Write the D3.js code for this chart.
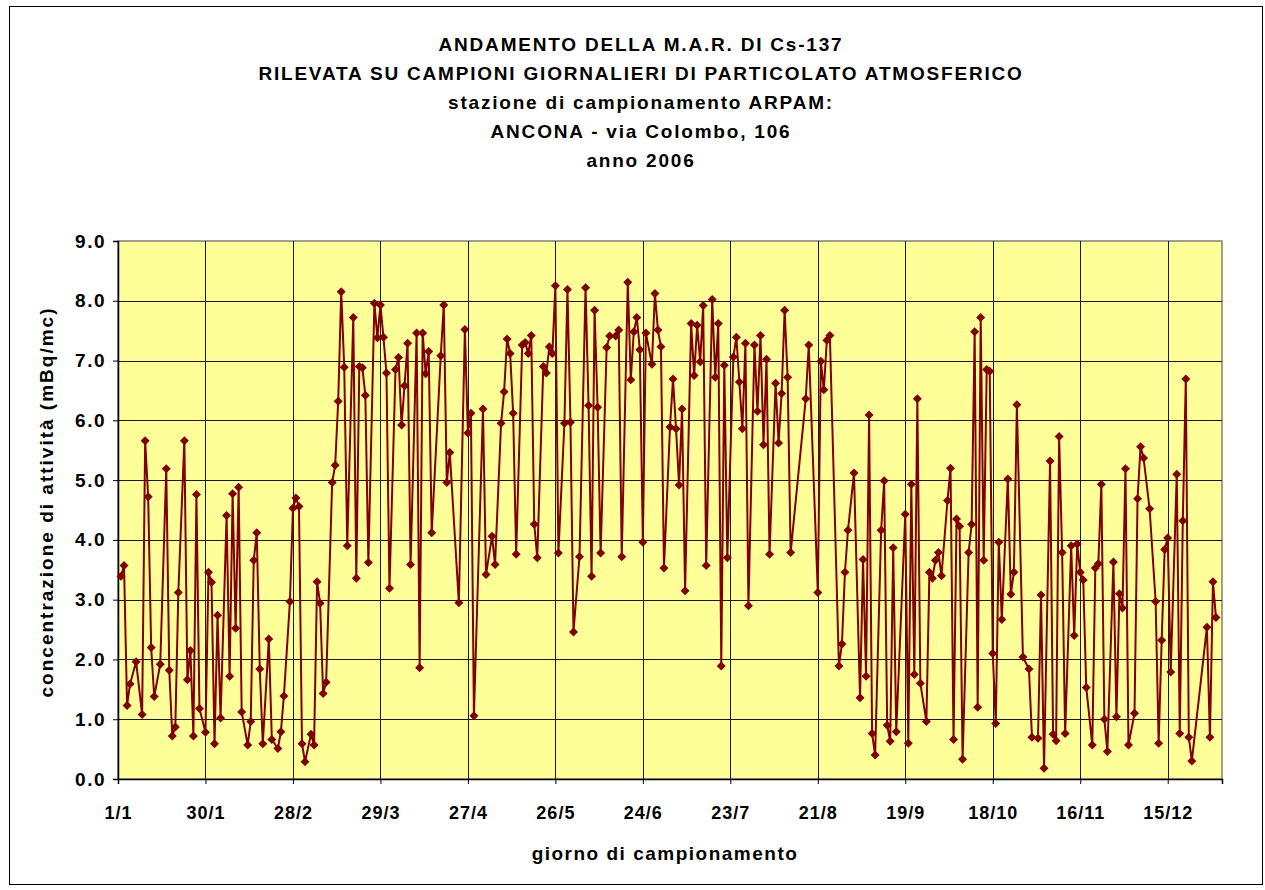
<!DOCTYPE html>
<html>
<head>
<meta charset="utf-8">
<script src="https://cdn.jsdelivr.net/npm/d3@7"></script>
<style>
  html, body { margin: 0; padding: 0; background: #fff; }
  svg text { font-family: "Liberation Sans", Arial, sans-serif; font-weight: bold; fill: #000; }
</style>
</head>
<body>
<svg id="chart" width="1265" height="890"></svg>
<script>
// giorno dell'anno (0 = 1/1/2006) e valore M.A.R. Cs-137 (mBq/mc)
const days = [
  1, 2, 3, 4, 6, 8, 9, 10, 11, 12, 14, 16, 17, 18, 19, 20, 22, 23, 24, 25,
  26, 27, 29, 30, 31, 32, 33, 34, 36, 37, 38, 39, 40, 41, 43, 44, 45, 46, 47, 48,
  50, 51, 53, 54, 55, 57, 58, 59, 60, 61, 62, 64, 65, 66, 67, 68, 69, 71, 72, 73,
  74, 75, 76, 78, 79, 80, 81, 82, 83, 85, 86, 87, 88, 89, 90, 92, 93, 94, 95, 96,
  97, 99, 100, 101, 102, 103, 104, 107, 108, 109, 110, 113, 115, 116, 117, 118, 121, 122, 124, 125,
  127, 128, 129, 130, 131, 132, 134, 135, 136, 137, 138, 139, 141, 142, 143, 144, 145, 146, 148, 149,
  150, 151, 153, 155, 156, 157, 158, 159, 160, 162, 163, 165, 166, 167, 169, 170, 171, 172, 173, 174,
  175, 177, 178, 179, 180, 181, 183, 184, 185, 186, 187, 188, 190, 191, 192, 193, 194, 195, 197, 198,
  199, 200, 201, 202, 204, 205, 206, 207, 208, 209, 211, 212, 213, 214, 215, 216, 218, 219, 220, 221,
  222, 223, 228, 229, 232, 233, 234, 235, 236, 239, 240, 241, 242, 244, 246, 247, 248, 249, 250, 251,
  253, 254, 255, 256, 257, 258, 261, 262, 263, 264, 265, 266, 268, 269, 270, 271, 272, 273, 275, 276,
  277, 278, 279, 280, 282, 283, 284, 285, 286, 287, 288, 289, 290, 291, 292, 293, 295, 296, 297, 298,
  300, 302, 303, 305, 306, 307, 309, 310, 311, 312, 313, 314, 316, 317, 318, 319, 320, 321, 323, 324,
  325, 326, 327, 328, 330, 331, 332, 333, 334, 335, 337, 338, 339, 340, 342, 344, 345, 346, 347, 348,
  349, 351, 352, 353, 354, 355, 356, 361, 362, 363, 364
];
const values = [
  3.39, 3.57, 1.23, 1.59, 1.96, 1.08, 5.66, 4.72, 2.20, 1.38, 1.92, 5.19, 1.82, 0.72, 0.87, 3.12, 5.66, 1.66, 2.15, 0.72,
  4.76, 1.18, 0.78, 3.46, 3.29, 0.59, 2.74, 1.02, 4.41, 1.72, 4.77, 2.52, 4.88, 1.12, 0.57, 0.96, 3.66, 4.12, 1.84, 0.59,
  2.34, 0.66, 0.51, 0.79, 1.39, 2.97, 4.53, 4.70, 4.56, 0.59, 0.29, 0.75, 0.57, 3.30, 2.94, 1.43, 1.62, 4.96, 5.25, 6.32,
  8.15, 6.89, 3.90, 7.72, 3.36, 6.90, 6.88, 6.42, 3.62, 7.96, 7.38, 7.93, 7.39, 6.79, 3.19, 6.85, 7.05, 5.92, 6.58, 7.29,
  3.59, 7.46, 1.86, 7.46, 6.78, 7.15, 4.12, 7.08, 7.93, 4.96, 5.46, 2.95, 7.52, 5.79, 6.12, 1.06, 6.19, 3.42, 4.06, 3.59,
  5.95, 6.48, 7.36, 7.12, 6.12, 3.76, 7.26, 7.30, 7.12, 7.42, 4.26, 3.70, 6.90, 6.79, 7.23, 7.12, 8.25, 3.78, 5.95, 8.19,
  5.97, 2.46, 3.72, 8.22, 6.25, 3.39, 7.84, 6.22, 3.78, 7.22, 7.41, 7.41, 7.51, 3.72, 8.31, 6.68, 7.48, 7.72, 7.18, 3.96,
  7.46, 6.94, 8.12, 7.51, 7.23, 3.53, 5.89, 6.69, 5.86, 4.92, 6.19, 3.15, 7.62, 6.75, 7.59, 6.98, 7.92, 3.57, 8.02, 6.72,
  7.62, 1.89, 6.92, 3.70, 7.06, 7.39, 6.64, 5.86, 7.29, 2.90, 7.26, 6.15, 7.42, 5.59, 7.02, 3.76, 6.62, 5.62, 6.45, 7.84,
  6.72, 3.79, 6.36, 7.26, 3.12, 6.99, 6.51, 7.34, 7.42, 1.89, 2.26, 3.46, 4.16, 5.12, 1.36, 3.67, 1.72, 6.09, 0.76, 0.40,
  4.16, 4.99, 0.90, 0.63, 3.87, 0.79, 4.43, 0.60, 4.93, 1.75, 6.36, 1.60, 0.96, 3.46, 3.36, 3.66, 3.79, 3.40, 4.66, 5.20,
  0.66, 4.35, 4.23, 0.33, 3.79, 4.26, 7.48, 1.20, 7.72, 3.66, 6.85, 6.82, 2.10, 0.93, 3.96, 2.67, 5.02, 3.09, 3.46, 6.26,
  2.04, 1.84, 0.70, 0.68, 3.08, 0.18, 5.32, 0.75, 0.64, 5.73, 3.79, 0.76, 3.90, 2.40, 3.93, 3.46, 3.33, 1.53, 0.57, 3.53,
  3.60, 4.93, 1.00, 0.46, 3.63, 1.04, 3.10, 2.86, 5.19, 0.57, 1.10, 4.69, 5.56, 5.37, 4.52, 2.97, 0.60, 2.32, 3.84, 4.03,
  1.79, 5.10, 0.76, 4.32, 6.69, 0.70, 0.30, 2.54, 0.70, 3.30, 2.70
];
const xTickLabels = ['1/1', '30/1', '28/2', '29/3', '27/4', '26/5', '24/6', '23/7', '21/8', '19/9', '18/10', '16/11', '15/12'];
const yTickValues = [0, 1, 2, 3, 4, 5, 6, 7, 8, 9];
const titleLines = [
  'ANDAMENTO DELLA M.A.R. DI Cs-137',
  'RILEVATA SU CAMPIONI GIORNALIERI DI PARTICOLATO ATMOSFERICO',
  'stazione di campionamento ARPAM:',
  'ANCONA - via Colombo, 106',
  'anno 2006'
];

const svg = d3.select('#chart');
const plotL = 118, plotR = 1222, plotT = 241, plotB = 779;
const start = new Date(2006, 0, 1);
const toDate = d => d3.timeDay.offset(start, d);

const x = d3.scaleTime()
  .domain([start, toDate(366)])
  .range([plotL, plotR]);
const y = d3.scaleLinear()
  .domain([0, 9])
  .range([plotB, plotT]);

// cornice esterna
svg.append('rect')
  .attr('x', 9.5).attr('y', 6.5)
  .attr('width', 1253).attr('height', 878)
  .attr('fill', '#fff')
  .attr('stroke', '#000')
  .attr('stroke-width', 1);

// area del grafico
svg.append('rect')
  .attr('x', plotL).attr('y', plotT)
  .attr('width', plotR - plotL).attr('height', plotB - plotT)
  .attr('fill', '#ffff99')
  .attr('stroke', '#808080')
  .attr('stroke-width', 1.5);

const xTicks = xTickLabels.map((_, i) => toDate(29 * i));

// griglia
svg.append('g')
  .selectAll('line')
  .data(yTickValues.slice(1, -1))
  .join('line')
  .attr('x1', plotL).attr('x2', plotR)
  .attr('y1', d => Math.round(y(d)) + 0.5).attr('y2', d => Math.round(y(d)) + 0.5)
  .attr('stroke', '#1a1a1a');
svg.append('g')
  .selectAll('line')
  .data(xTicks.slice(1))
  .join('line')
  .attr('x1', d => Math.round(x(d)) + 0.5).attr('x2', d => Math.round(x(d)) + 0.5)
  .attr('y1', plotT).attr('y2', plotB)
  .attr('stroke', '#1a1a1a');

// assi
const yAxis = svg.append('g')
  .attr('transform', `translate(${plotL},0)`)
  .call(d3.axisLeft(y).tickValues(yTickValues).tickFormat(d3.format('.1f')).tickSize(5).tickPadding(9));
const xAxis = svg.append('g')
  .attr('transform', `translate(0,${plotB})`)
  .call(d3.axisBottom(x).tickValues(xTicks).tickFormat((d, i) => xTickLabels[i]).tickSize(5).tickPadding(22));
[yAxis, xAxis].forEach(g => {
  g.selectAll('text').style('font-size', '18px').style('letter-spacing', '1px');
  g.select('.domain').attr('stroke', '#000').attr('stroke-width', 1.5);
  g.selectAll('.tick line').attr('stroke', '#000');
});
yAxis.selectAll('text').style('font-size', '19px').style('letter-spacing', '1.5px').attr('dx', 2);

// serie
const pts = days.map((d, i) => ({ date: toDate(d), v: values[i] }));
svg.append('path')
  .datum(pts)
  .attr('fill', 'none')
  .attr('stroke', '#800000')
  .attr('stroke-width', 2)
  .attr('stroke-linejoin', 'round')
  .attr('d', d3.line().x(d => x(d.date)).y(d => y(d.v)));

svg.append('g')
  .selectAll('path')
  .data(pts)
  .join('path')
  .attr('transform', d => `translate(${x(d.date)},${y(d.v)})`)
  .attr('d', 'M0,-4.5L4.5,0L0,4.5L-4.5,0Z')
  .attr('fill', '#800000');

// titoli
svg.append('g')
  .selectAll('text')
  .data(titleLines)
  .join('text')
  .attr('x', 641)
  .attr('y', (d, i) => 51 + i * 29)
  .attr('text-anchor', 'middle')
  .style('font-size', '19px')
  .style('letter-spacing', '1.8px')
  .text(d => d);

svg.append('text')
  .attr('x', 665).attr('y', 860)
  .attr('text-anchor', 'middle')
  .style('font-size', '19px')
  .style('letter-spacing', '1.5px')
  .text('giorno di campionamento');

svg.append('text')
  .attr('transform', 'translate(53,502) rotate(-90)')
  .attr('text-anchor', 'middle')
  .style('font-size', '19px')
  .style('letter-spacing', '2px')
  .text('concentrazione di attività (mBq/mc)');
</script>
</body>
</html>
